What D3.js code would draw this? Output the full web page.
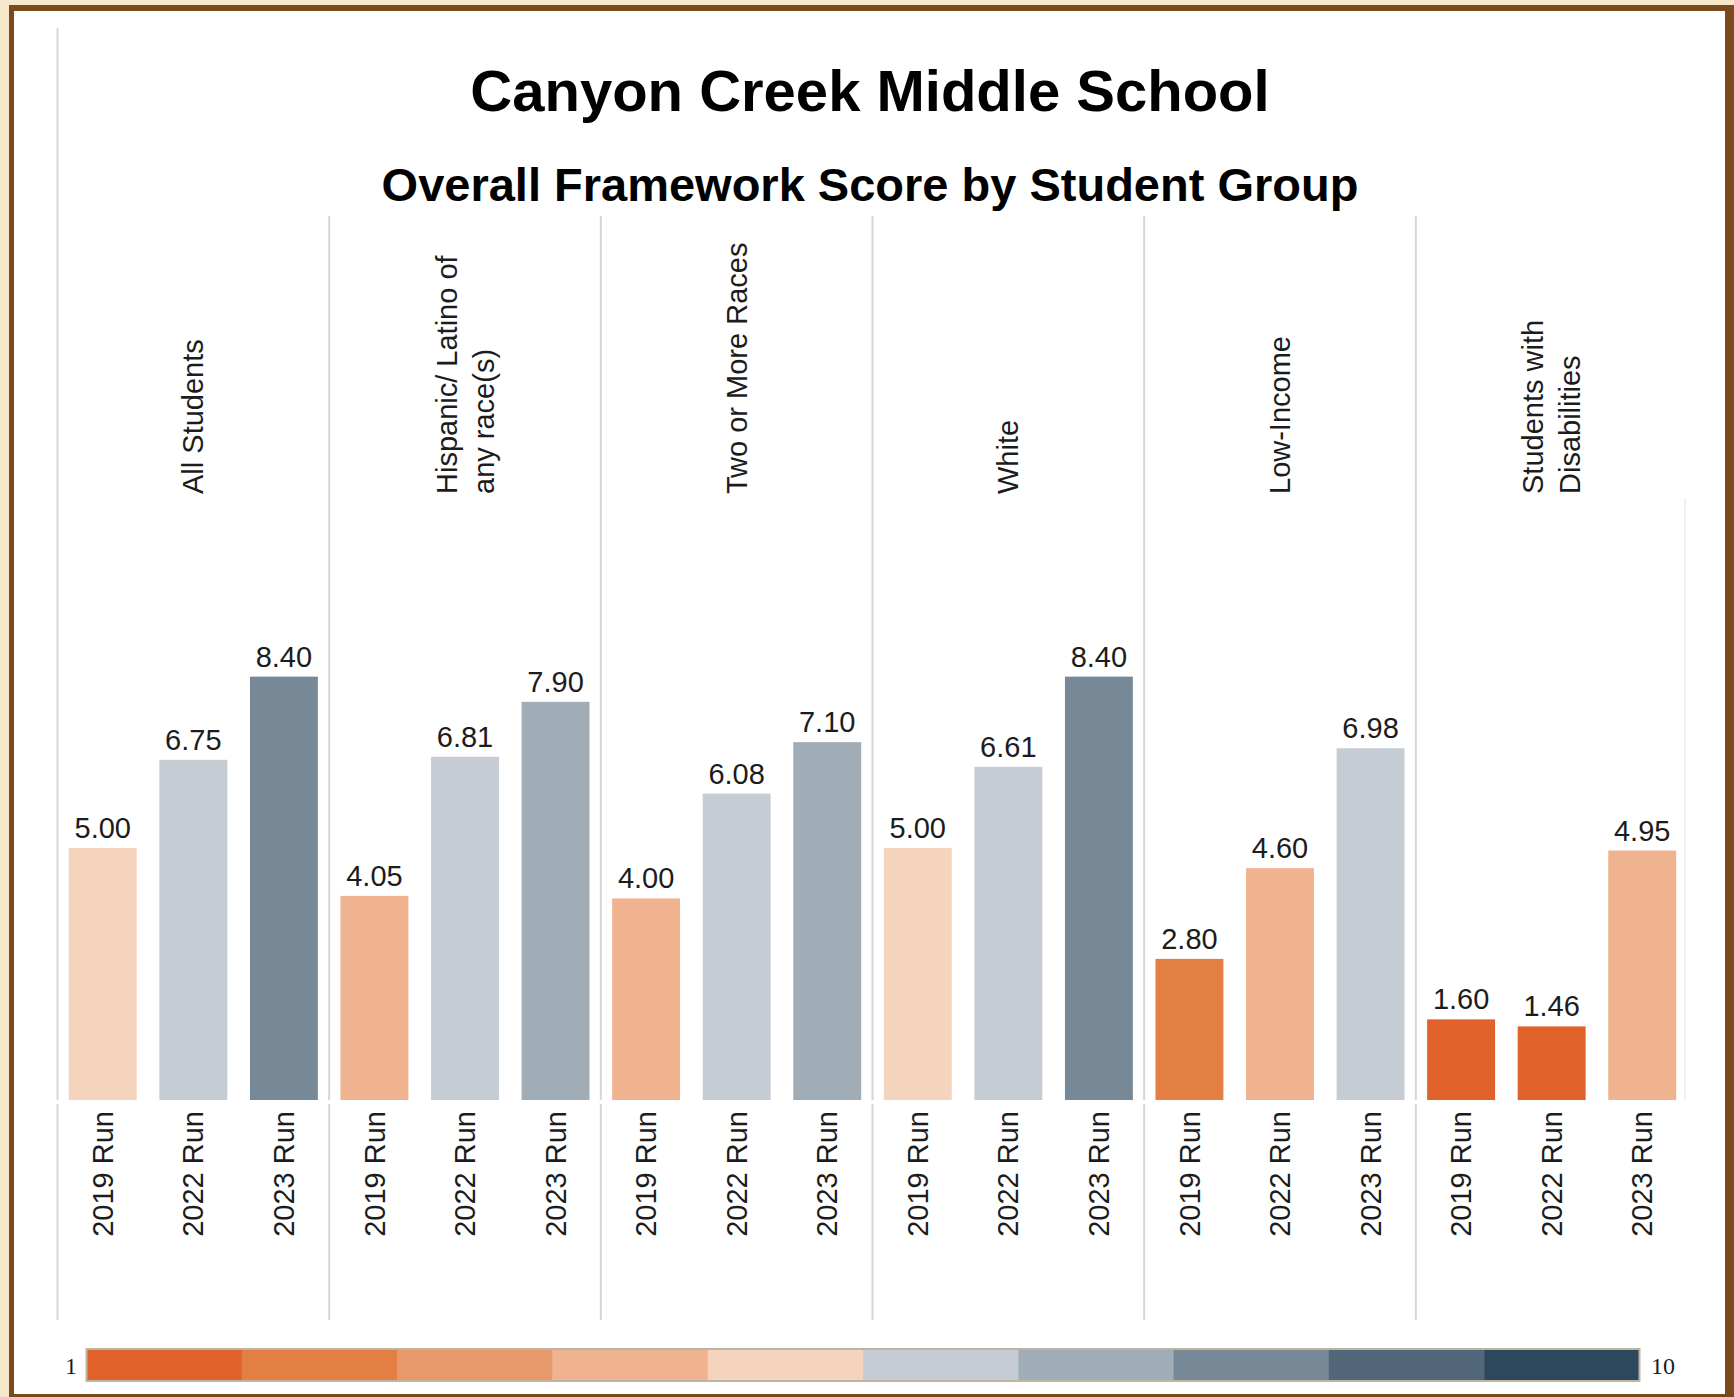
<!DOCTYPE html>
<html>
<head>
<meta charset="utf-8">
<script src="https://cdn.jsdelivr.net/npm/d3@7"></script>
<style>
  html, body { margin: 0; padding: 0; background: #f5e8ca; }
  svg { display: block; }
  text { font-family: 'Liberation Sans', Arial, sans-serif; fill: #1c1c1c; }
</style>
</head>
<body>
<svg id="chart" width="1734" height="1397"></svg>
<script>
// data
const groups = ['All Students', 'Hispanic/ Latino of any race(s)', 'Two or More Races', 'White', 'Low-Income', 'Students with Disabilities']
const groupLines = [['All Students'], ['Hispanic/ Latino of', 'any race(s)'], ['Two or More Races'], ['White'], ['Low-Income'], ['Students with', 'Disabilities']]
const runs = ['2019 Run', '2022 Run', '2023 Run']
const run2019 = [5.0, 4.05, 4.0, 5.0, 2.8, 1.6]
const run2022 = [6.75, 6.81, 6.08, 6.61, 4.6, 1.46]
const run2023 = [8.4, 7.9, 7.1, 8.4, 6.98, 4.95]
const legendValues = [1, 2, 3, 4, 5, 6, 7, 8, 9, 10]
const legendColors = ['#e0622a', '#e47f44', '#e8996b', '#efb48f', '#f4d4bc', '#c5ccd4', '#a0acb6', '#778896', '#52677a', '#2d475c']

const svg = d3.select('#chart')

// frame
svg.append('rect').attr('x', 9).attr('y', 5).attr('width', 1725).attr('height', 1392).attr('fill', '#7a4a1d')
svg.append('rect').attr('x', 14).attr('y', 11).attr('width', 1711).attr('height', 1383).attr('fill', '#fff')

const series = [run2019, run2022, run2023]
const rows = groups.map((g, i) => ({
  group: g,
  lines: groupLines[i],
  bars: runs.map((r, j) => ({ run: r, value: series[j][i] })),
}))

const x0 = d3.scaleBand().domain(groups).range([57.5, 1687.5]).padding(0)
const x1 = d3.scaleBand().domain(runs).range([0, x0.bandwidth()]).paddingInner(0.25).paddingOuter(0.125)
const y = d3.scaleLinear().domain([0, 10]).range([1100, 596])
const color = d3.scaleThreshold().domain([2, 3, 4, 5, 6, 7, 8, 9, 10]).range(legendColors)

// titles
svg.append('text')
  .attr('x', 870).attr('y', 111)
  .attr('text-anchor', 'middle')
  .style('font-size', '58px').style('font-weight', 'bold').style('fill', '#000')
  .text('Canyon Creek Middle School')
svg.append('text')
  .attr('x', 870).attr('y', 201)
  .attr('text-anchor', 'middle')
  .style('font-size', '47px').style('font-weight', 'bold').style('fill', '#000')
  .text('Overall Framework Score by Student Group')

// panel separators
const sepColor = '#d6d6d6'
svg.append('line').attr('x1', 57.5).attr('x2', 57.5).attr('y1', 28).attr('y2', 1100)
  .attr('stroke', sepColor).attr('stroke-width', 2)
const seps = svg.append('g').attr('stroke', sepColor).attr('stroke-width', 2)
groups.forEach((g, i) => {
  const xx = x0(g)
  if (i > 0) {
    seps.append('line').attr('x1', xx).attr('x2', xx).attr('y1', 216).attr('y2', 1100)
  }
  seps.append('line').attr('x1', xx).attr('x2', xx).attr('y1', 1104).attr('y2', 1320)
})
svg.append('line').attr('x1', 1685).attr('x2', 1685).attr('y1', 498).attr('y2', 1100)
  .attr('stroke', '#f0f0f0').attr('stroke-width', 2)

const panel = svg.append('g')
  .selectAll('g.panel')
  .data(rows)
  .join('g')
  .classed('panel', true)
  .attr('transform', (d) => `translate(${x0(d.group)}, 0)`)

// group headers
panel.each(function (d) {
  const g = d3.select(this)
  const cx = x0.bandwidth() / 2
  const n = d.lines.length
  d.lines.forEach((line, k) => {
    const off = (k - (n - 1) / 2) * 37
    g.append('text')
      .attr('transform', `translate(${cx + off}, 494) rotate(-90)`)
      .attr('text-anchor', 'start')
      .attr('dy', '0.35em')
      .style('font-size', '29px')
      .text(line)
  })
})

// bars
panel.selectAll('rect.bar')
  .data((d) => d.bars)
  .join('rect')
  .classed('bar', true)
  .attr('x', (d) => x1(d.run))
  .attr('width', x1.bandwidth())
  .attr('y', (d) => y(d.value))
  .attr('height', (d) => y(0) - y(d.value))
  .attr('fill', (d) => color(d.value))

// value labels
panel.selectAll('text.val')
  .data((d) => d.bars)
  .join('text')
  .classed('val', true)
  .attr('x', (d) => x1(d.run) + x1.bandwidth() / 2)
  .attr('y', (d) => y(d.value) - 10)
  .attr('text-anchor', 'middle')
  .style('font-size', '29px')
  .text((d) => d3.format('.2f')(d.value))

// run labels
panel.selectAll('text.run')
  .data((d) => d.bars)
  .join('text')
  .classed('run', true)
  .attr('transform', (d) => `translate(${x1(d.run) + x1.bandwidth() / 2}, 1111) rotate(-90)`)
  .attr('text-anchor', 'end')
  .attr('dy', '0.35em')
  .style('font-size', '29px')
  .text((d) => d.run)

// colour legend
const lx = d3.scaleBand().domain(legendValues).range([86.5, 1639.5])
const legend = svg.append('g')
legend.selectAll('rect')
  .data(legendValues)
  .join('rect')
  .attr('x', (d) => lx(d))
  .attr('width', lx.bandwidth() + 0.5)
  .attr('y', 1349)
  .attr('height', 32)
  .attr('fill', (d, i) => legendColors[i])
legend.append('rect')
  .attr('x', 86.5).attr('y', 1349).attr('width', 1553).attr('height', 32)
  .attr('fill', 'none').attr('stroke', '#bdb5a2').attr('stroke-width', 2)
legend.append('text')
  .attr('x', 77).attr('y', 1366).attr('dy', '0.35em')
  .attr('text-anchor', 'end')
  .style('font-family', "'Liberation Serif', 'Times New Roman', serif").style('font-size', '24px')
  .text(legendValues[0])
legend.append('text')
  .attr('x', 1651).attr('y', 1366).attr('dy', '0.35em')
  .attr('text-anchor', 'start')
  .style('font-family', "'Liberation Serif', 'Times New Roman', serif").style('font-size', '24px')
  .text(legendValues[legendValues.length - 1])
</script>
</body>
</html>
